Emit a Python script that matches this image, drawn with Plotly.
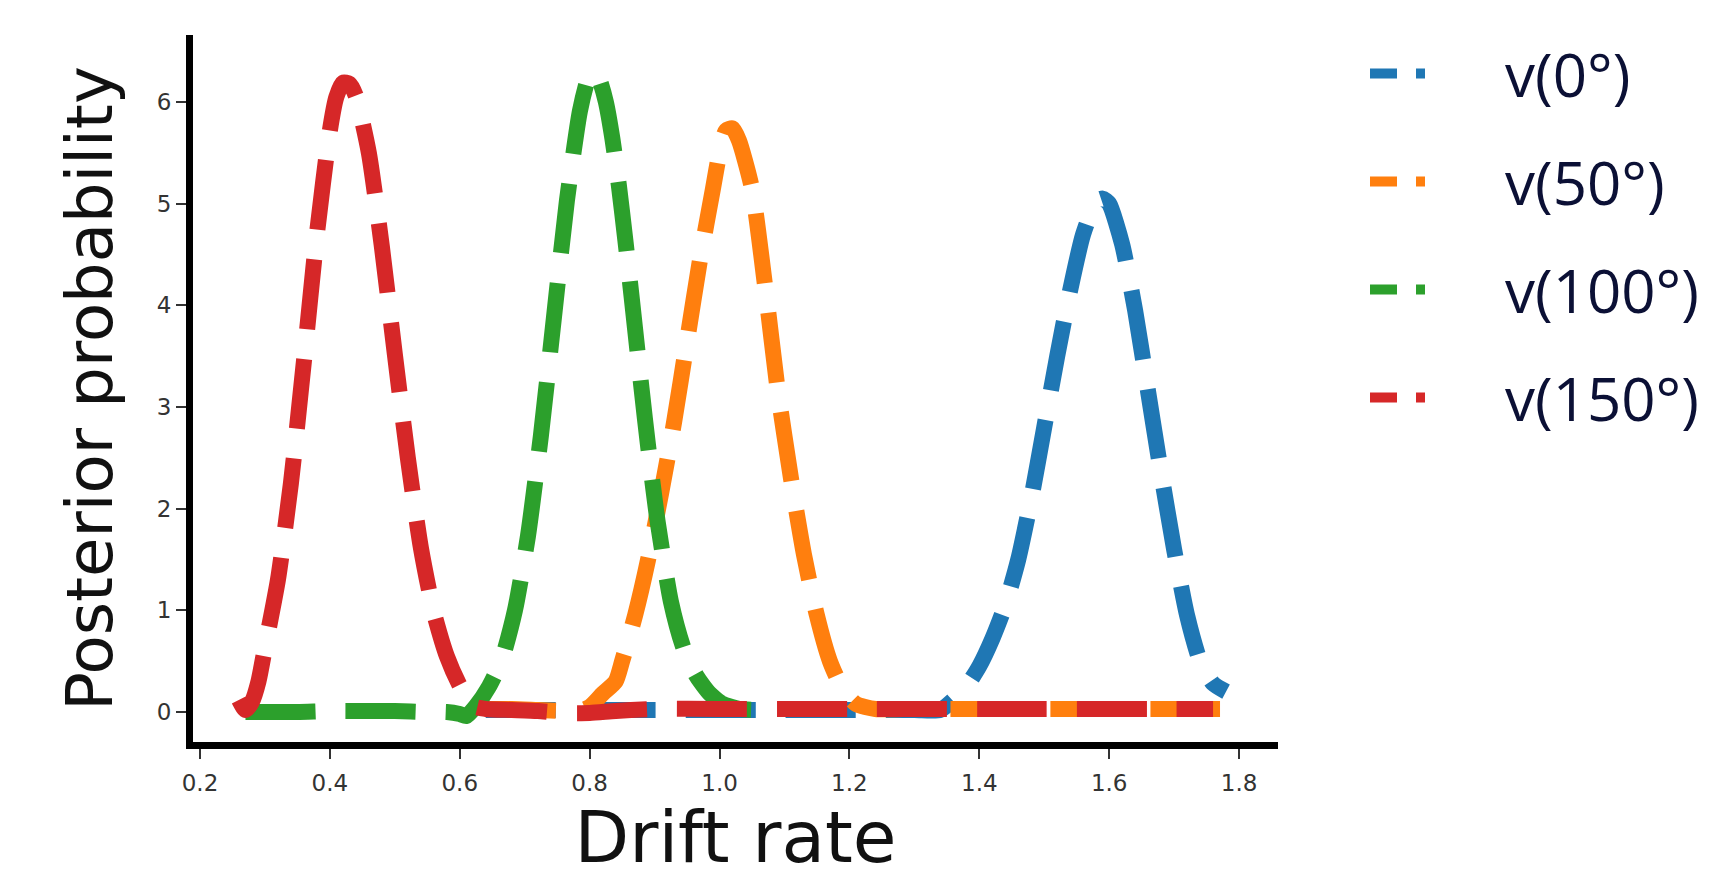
import plotly.graph_objects as go

# ---- data ----
series_names = ["v(0°)", "v(50°)", "v(100°)", "v(150°)"]
series_colors = ["#1f77b4", "#ff7f0e", "#2ca02c", "#d62728"]

blue_x = [0.64, 0.70, 0.80, 0.90, 1.00, 1.10, 1.20, 1.30, 1.34, 1.36, 1.38, 1.40, 1.42, 1.44, 1.46, 1.48,
          1.50, 1.52, 1.54, 1.56, 1.58, 1.59, 1.60, 1.62, 1.64, 1.66, 1.68, 1.70, 1.72, 1.74, 1.76, 1.78]
blue_y = [0.02, 0.02, 0.02, 0.02, 0.02, 0.02, 0.02, 0.02, 0.02, 0.12, 0.25, 0.45, 0.72, 1.05, 1.50, 2.10,
          2.80, 3.50, 4.15, 4.70, 5.02, 5.05, 5.00, 4.60, 3.95, 3.15, 2.35, 1.60, 0.95, 0.50, 0.28, 0.20]

orange_x = [0.64, 0.68, 0.72, 0.76, 0.78, 0.80, 0.82, 0.84, 0.85, 0.87, 0.89, 0.91, 0.93, 0.95, 0.97, 0.99,
            1.00, 1.01, 1.02, 1.03, 1.05, 1.07, 1.09, 1.11, 1.13, 1.15, 1.17, 1.19, 1.21, 1.24, 1.30, 1.40,
            1.50, 1.60, 1.70, 1.78]
orange_y = [0.03, 0.03, 0.02, 0.01, 0.00, 0.05, 0.18, 0.30, 0.50, 0.95, 1.50, 2.15, 2.85, 3.65, 4.45, 5.15,
            5.50, 5.72, 5.74, 5.62, 5.15, 4.20, 3.15, 2.30, 1.55, 0.95, 0.50, 0.22, 0.08, 0.03, 0.03, 0.03,
            0.03, 0.03, 0.03, 0.03]

green_x = [0.27, 0.30, 0.35, 0.40, 0.45, 0.50, 0.55, 0.58, 0.60, 0.61, 0.625, 0.645, 0.665, 0.685, 0.705, 0.725,
           0.745, 0.765, 0.785, 0.797, 0.805, 0.815, 0.825, 0.835, 0.845, 0.855, 0.865, 0.875, 0.885, 0.895, 0.905,
           0.925, 0.945, 0.965, 0.985, 1.005, 1.03, 1.06]
green_y = [0.00, 0.00, 0.00, 0.01, 0.01, 0.01, 0.00, 0.00, -0.02, -0.04, 0.06, 0.25, 0.52, 1.00, 1.73, 2.72,
           3.88, 5.03, 5.91, 6.22, 6.30, 6.22, 6.00, 5.64, 5.18, 4.64, 4.06, 3.47, 2.89, 2.35, 1.86,
           1.09, 0.62, 0.35, 0.18, 0.08, 0.03, 0.02]

red_x = [0.26, 0.27, 0.28, 0.29, 0.30, 0.32, 0.34, 0.36, 0.38, 0.40, 0.41, 0.42, 0.43, 0.44, 0.46, 0.48,
         0.50, 0.52, 0.54, 0.56, 0.58, 0.60, 0.62, 0.64, 0.68, 0.72, 0.76, 0.80, 0.84, 0.90, 1.00, 1.10,
         1.20, 1.30, 1.40, 1.50, 1.60, 1.70, 1.76]
red_y = [0.12, 0.02, 0.10, 0.30, 0.63, 1.30, 2.25, 3.45, 4.70, 5.72, 6.05, 6.19, 6.18, 6.06, 5.50, 4.58,
         3.52, 2.50, 1.62, 0.98, 0.55, 0.26, 0.06, 0.03, 0.02, 0.01, -0.01, -0.01, 0.01, 0.03, 0.03, 0.03,
         0.03, 0.03, 0.03, 0.03, 0.03, 0.03, 0.03]

x_ticks = [0.2, 0.4, 0.6, 0.8, 1.0, 1.2, 1.4, 1.6, 1.8]
y_ticks = [0, 1, 2, 3, 4, 5, 6]

series_x = [blue_x, orange_x, green_x, red_x]
series_y = [blue_y, orange_y, green_y, red_y]

# ---- figure ----
# The page body keeps its default 8px margin, so the figure is 8px smaller
# than the window and all positions below are relative to that offset.
W, H = 1702, 871

fig = go.Figure()
for name, color, xs, ys in zip(series_names, series_colors, series_x, series_y):
    fig.add_trace(go.Scatter(
        x=xs, y=ys, mode="lines", name=name, showlegend=False,
        line=dict(color=color, width=16, dash="70px,30px", shape="spline", smoothing=0.6),
        hoverinfo="skip",
    ))
# legend entries (swatches only)
for i, (name, color) in enumerate(zip(series_names, series_colors)):
    fig.add_trace(go.Scatter(
        x=[None], y=[None], mode="lines", name=name, legendgroup=f"g{i}",
        line=dict(color=color, width=10, dash="27px,19px,9px,400px"),
    ))

fig.update_layout(
    width=W, height=H,
    margin=dict(l=185, r=432, t=27, b=137),
    paper_bgcolor="white", plot_bgcolor="white",
    showlegend=True,
    legend=dict(
        xref="container", yref="container",
        x=1357 / W, y=1 - 20 / H, xanchor="left", yanchor="top",
        font=dict(family="Open Sans", size=60, color="#0b1035"),
        itemwidth=130, tracegroupgap=27,
        bgcolor="rgba(0,0,0,0)",
    ),
    xaxis=dict(
        range=[0.1892, 1.86], tickvals=x_ticks, ticktext=[f"{v:.1f}" for v in x_ticks],
        automargin=False,
        showline=True, linecolor="black", linewidth=7, mirror=False,
        ticks="outside", ticklen=10, tickwidth=1.5, tickcolor="#333",
        ticklabelstandoff=4,
        tickfont=dict(family="DejaVu Sans", size=23, color="#333"),
        showgrid=False, zeroline=False,
        title=dict(text="Drift rate", font=dict(family="DejaVu Sans", size=71, color="#111"), standoff=20),
    ),
    yaxis=dict(
        range=[-0.295, 6.659], tickvals=y_ticks,
        automargin=False,
        showline=True, linecolor="black", linewidth=7, mirror=False,
        ticks="outside", ticklen=10, tickwidth=1.5, tickcolor="#333",
        tickfont=dict(family="DejaVu Sans", size=23, color="#333"),
        showgrid=False, zeroline=False,
        title=dict(text="Posterior probability", font=dict(family="DejaVu Sans", size=64, color="#111"), standoff=26),
    ),
)

fig.write_html("out.html")
